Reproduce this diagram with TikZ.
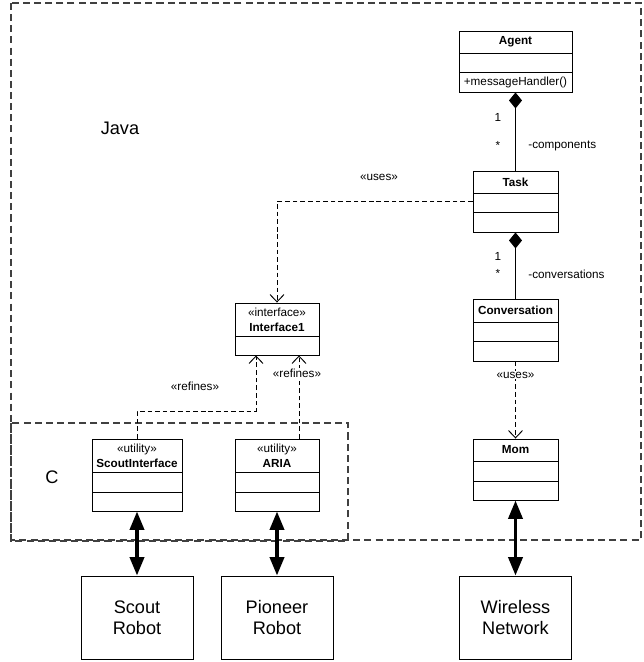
\documentclass[tikz,border=0pt]{standalone}
\usepackage{fontspec}
\setmainfont{Liberation Sans}
\usepackage{tikz}
\usetikzlibrary{arrows.meta}
\usetikzlibrary{calc}
\usetikzlibrary{fit}

% class box: name, centre x, half width, top, divider 1, divider 2, bottom, title
\newcommand{\umlclass}[8]{%
  \node[classbox, fit={(#2-#3,#4) (#2+#3,#7)}] (#1) {};
  \draw[classline] (#2-#3,#5) -- (#2+#3,#5);
  \draw[classline] (#2-#3,#6) -- (#2+#3,#6);
  \node[classtitle] (#1-title) at (#2,{(#4+#5)/2}) {#8};
}

\begin{document}
\begin{tikzpicture}[x=0.03cm, y=-0.03cm,
  classbox/.style={draw, line width=0.8pt, inner sep=0pt, fill=white},
  classline/.style={line width=0.8pt},
  classtitle/.style={font=\fontsize{10}{12.8}\selectfont, align=center, inner sep=0pt},
  umltext/.style={font=\fontsize{10}{12}\selectfont, inner sep=1pt},
  pkg/.style={draw=black!75, line width=1pt, dash pattern=on 6pt off 3.5pt},
  pkgname/.style={font=\fontsize{15.5}{18}\selectfont},
  device/.style={draw, line width=0.8pt, minimum width=3.36cm, minimum height=2.49cm,
    align=center, font=\fontsize{15.5}{18}\selectfont},
  depend/.style={line width=0.8pt, dash pattern=on 4pt off 2.5pt,
    -{Straight Barb[length=0.22cm,width=0.42cm]}},
  compose/.style={line width=0.8pt, -{Diamond[length=0.48cm,width=0.39cm]}},
  link/.style={line width=3pt,
    {Triangle[length=0.55cm,width=0.42cm]}-{Triangle[length=0.55cm,width=0.42cm]}}]
  \useasboundingbox (0,0) rectangle (644,662);

  % packages
  \draw[pkg] (11,3) rectangle (641,540);
  \draw[pkg] (11,423) rectangle (348,541);
  \node[pkgname] (java) at (120,128) {Java};
  \node[pkgname] (clang) at (52,477) {C};

  % classes
  \umlclass{agent}{515.5}{56.5}{31}{53}{72}{92}{\textbf{Agent}}
  \node[classtitle] (agent-op) at (515.5,82) {+messageHandler()};
  \umlclass{task}{515.5}{42.5}{171}{193}{212}{232}{\textbf{Task}}
  \umlclass{conv}{515.5}{42.5}{299}{322}{341}{361}{\textbf{Conversation}}
  \umlclass{mom}{515.5}{42.5}{439}{461}{481}{500}{\textbf{Mom}}
  \umlclass{iface}{277}{42}{303}{336}{336}{355}{«interface»\\\textbf{Interface1}}
  \umlclass{scout}{137}{45}{439}{472}{492}{511}{«utility»\\\textbf{ScoutInterface}}
  \umlclass{aria}{277}{42}{439}{472}{492}{511}{«utility»\\\textbf{ARIA}}

  % hardware
  \node[device] (scoutbot) at (137,617.5) {Scout\\Robot};
  \node[device] (pioneer) at (277,617.5) {Pioneer\\Robot};
  \node[device] (wireless) at (515.5,617.5) {Wireless\\Network};

  % associations
  \draw[compose] (task) -- (agent);
  \node[umltext] (m1) at (498,117) {1};
  \node[umltext] (m2) at (498,145) {*};
  \node[umltext, anchor=west] (components) at (527,146) {-components};
  \draw[compose] (conv) -- (task);
  \node[umltext] (m3) at (498,256) {1};
  \node[umltext] (m4) at (498,273) {*};
  \node[umltext, anchor=west] (conversations) at (527,274) {-conversations};

  % dependencies
  \draw[depend] (task.west) -| (iface.north);
  \node[umltext] (uses1) at (379,177) {«uses»};
  \draw[depend] (conv) -- (mom);
  \node[umltext, fill=white] (uses2) at (515.5,375) {«uses»};
  \coordinate (bend) at (256,411);
  \draw[depend] (scout.north) |- (bend) -- (iface.south -| bend);
  \node[umltext] (refines1) at (195,386) {«refines»};
  \draw[depend] ($(aria.north)+(22,0)$) -- ($(iface.south)+(22,0)$);
  \node[umltext, fill=white] (refines2) at (297,373) {«refines»};

  % links to hardware
  \draw[link] (scout) -- (scoutbot);
  \draw[link] (aria) -- (pioneer);
  \draw[link] (mom) -- (wireless);
\end{tikzpicture}
\end{document}
